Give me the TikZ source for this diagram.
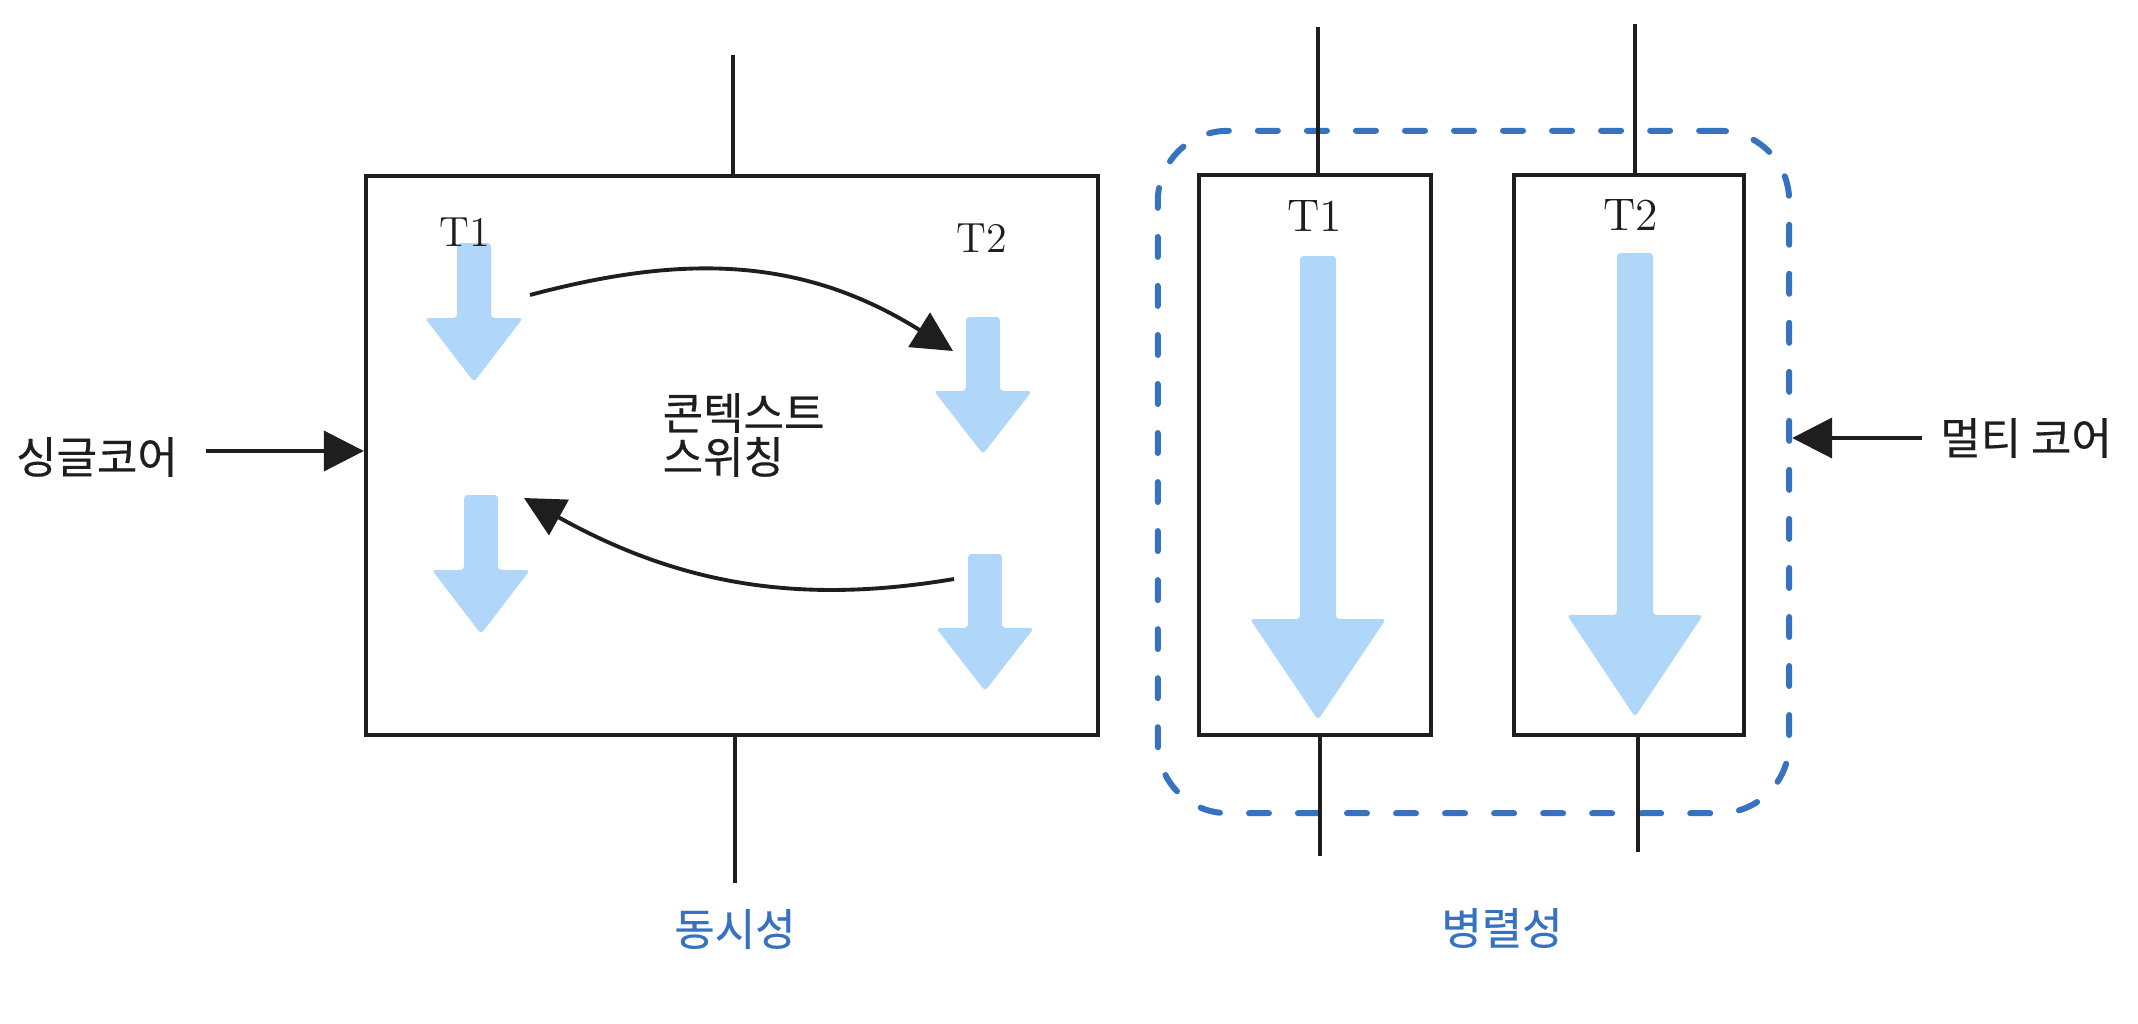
\documentclass[tikz,border=0pt]{standalone}
\usepackage{fontspec}
\newfontfamily\kr[UprightFeatures={FakeBold=0.4}]{Noto Sans CJK KR}
\usetikzlibrary{arrows.meta}
\definecolor{ink}{HTML}{1E1E1E}
\definecolor{threadblue}{RGB}{176,214,250}
\definecolor{noteblue}{RGB}{55,114,192}
\tikzset{
  box/.style={draw=ink, line width=1.1pt, minimum width=#1},
  box/.default=2.3cm,
  link/.style={draw=ink, line width=1.1pt, ->},
  wire/.style={draw=ink, line width=1.1pt},
  thread/.style={fill=threadblue, rounded corners=1pt},
  krlbl/.style={font=\kr\fontsize{12.5}{12.5}\selectfont, text=ink},
  tlbl/.style={font=\fontsize{12}{14}\selectfont, text=ink},
}
\begin{document}
\begin{tikzpicture}[x=0.01cm, y=-0.01cm, >={Triangle[length=4mm,width=4mm]}]
\useasboundingbox (0,0) rectangle (2138,1024);

% 상자
\node[box=7.32cm, minimum height=5.59cm] (conc) at (732,455.5) {};
\node[box=2.32cm, minimum height=5.6cm] (r1) at (1315,455) {};
\node[box=2.3cm, minimum height=5.6cm] (r2) at (1629,455) {};
\node[draw=noteblue, line width=1.7pt, dash pattern=on 2mm off 2.9mm, line cap=round,
      rounded corners=0.7cm, minimum width=6.31cm, minimum height=6.82cm] (multi) at (1473.5,472) {};

% 위아래 선
\coordinate (conctop) at (733,55);
\coordinate (concbot) at (735,883);
\coordinate (r1top) at (1318,27);
\coordinate (r1bot) at (1320,856);
\coordinate (r2top) at (1635,24);
\coordinate (r2bot) at (1638,852);
\draw[wire] (conctop) -- (conctop |- conc.north);
\draw[wire] (concbot |- conc.south) -- (concbot);
\draw[wire] (r1top) -- (r1top |- r1.north);
\draw[wire] (r1bot |- r1.south) -- (r1bot);
\draw[wire] (r2top) -- (r2top |- r2.north);
\draw[wire] (r2bot |- r2.south) -- (r2bot);

% 스레드 화살표
\fill[thread] (457,243) -- (491,243) -- (491,318) -- (523,318) -- (474,382) -- (425,318) -- (457,318) -- cycle;
\fill[thread] (966,317) -- (1000,317) -- (1000,391) -- (1032,391) -- (983,454) -- (934,391) -- (966,391) -- cycle;
\fill[thread] (464,495) -- (498,495) -- (498,570) -- (530,570) -- (481,634) -- (432,570) -- (464,570) -- cycle;
\fill[thread] (968,554) -- (1002,554) -- (1002,628) -- (1034,628) -- (985,691) -- (936,628) -- (968,628) -- cycle;
\fill[thread] (1300,256) -- (1336,256) -- (1336,619) -- (1386,619) -- (1318,720) -- (1250,619) -- (1300,619) -- cycle;
\fill[thread] (1617,253) -- (1653,253) -- (1653,615) -- (1703,615) -- (1635,717) -- (1567,615) -- (1617,615) -- cycle;

% 글자
\node[tlbl] (t1a) at (465,232) {T1};
\node[tlbl] (t2a) at (982,238) {T2};
\node[tlbl, font=\fontsize{13}{15}\selectfont] (t1b) at (1315,216) {T1};
\node[tlbl, font=\fontsize{13}{15}\selectfont] (t2b) at (1631,215) {T2};
\node[krlbl, align=left, anchor=west, inner sep=0pt] (switch) at (662,435) {콘텍스트\\스위칭};
\node[krlbl] (single) at (97,457) {싱글코어};
\node[krlbl] (mc) at (2026,438) {멀티 코어};
\node[krlbl, text=noteblue] (lblconc) at (735,929) {동시성};
\node[krlbl, text=noteblue] (lblpar) at (1502,928) {병렬성};

% 전환 곡선
\coordinate (sw1) at (530,295);
\coordinate (sw2) at (953,351);
\coordinate (sw3) at (954,579);
\coordinate (sw4) at (524,498);
\draw[link] (sw1) .. controls (680,255) and (800,255) .. (sw2);
\draw[link] (sw3) .. controls (800,605) and (680,585) .. (sw4);

% 코어 화살표
\draw[link] ([shift={(16,-6)}]single.east) coordinate (s0) -- (s0 -| conc.west);
\draw[link] ([xshift=-0.6mm]mc.west) coordinate (m0) -- (m0 -| multi.east);
\end{tikzpicture}
\end{document}
